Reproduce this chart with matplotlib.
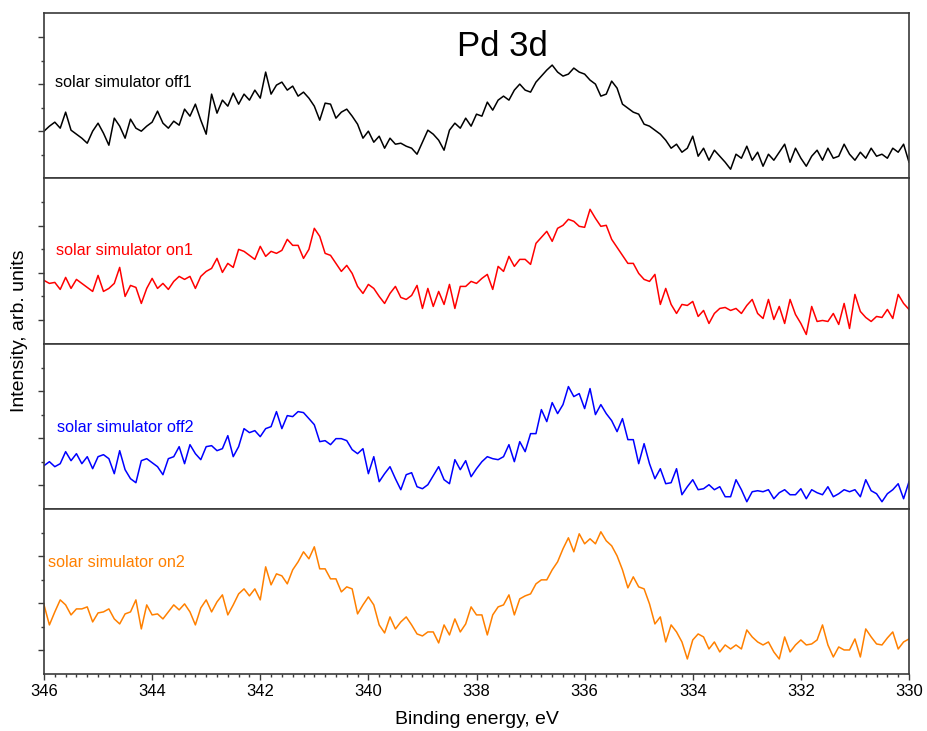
import numpy as np
import matplotlib
matplotlib.use("Agg")
import matplotlib.pyplot as plt
from matplotlib.ticker import MultipleLocator

plt.rcParams['font.family'] = ['Liberation Sans', 'DejaVu Sans']

# Binding energy grid, eV (346 -> 330, 0.1 eV step)
energy = np.round(np.arange(346.0, 329.95, -0.1), 1)

# Intensities, arb. units
off1 = [
    47, 52, 56, 50, 66, 48, 44, 40, 35, 47,
    55, 45, 33, 60, 52, 40, 59, 50, 47, 52,
    56, 67, 55, 50, 57, 53, 69, 62, 74, 58,
    44, 84, 65, 78, 72, 85, 74, 84, 78, 88,
    80, 106, 84, 93, 96, 88, 92, 82, 86, 80,
    72, 58, 75, 74, 60, 66, 69, 62, 54, 40,
    47, 36, 42, 30, 40, 34, 35, 32, 30, 24,
    36, 48, 44, 38, 28, 48, 55, 50, 60, 52,
    64, 62, 76, 68, 78, 82, 78, 88, 94, 88,
    86, 96, 102, 108, 113, 106, 102, 104, 110, 106,
    104, 98, 94, 82, 84, 97, 90, 74, 70, 66,
    64, 54, 52, 48, 44, 38, 30, 34, 26, 30,
    42, 22, 30, 18, 28, 22, 16, 9, 24, 20,
    32, 18, 26, 12, 24, 18, 26, 34, 16, 30,
    20, 12, 22, 28, 18, 30, 20, 22, 34, 24,
    18, 26, 20, 30, 22, 24, 20, 30, 26, 34,
    16,
]
on1 = [
    63, 60, 61, 54, 66, 55, 64, 60, 56, 52,
    68, 52, 55, 60, 76, 47, 58, 56, 40, 55,
    65, 55, 60, 54, 62, 67, 64, 67, 55, 67,
    72, 75, 85, 71, 80, 76, 94, 92, 88, 84,
    97, 87, 92, 90, 93, 104, 98, 98, 85, 94,
    115, 107, 90, 88, 80, 72, 78, 70, 57, 50,
    59, 55, 47, 40, 50, 57, 46, 44, 48, 58,
    35, 55, 37, 52, 39, 59, 35, 57, 57, 62,
    60, 65, 69, 54, 77, 72, 87, 77, 84, 84,
    79, 100, 106, 112, 102, 115, 118, 124, 122, 117,
    116, 134, 125, 117, 118, 104, 96, 88, 80, 80,
    70, 64, 62, 69, 39, 55, 39, 30, 39, 38,
    42, 27, 33, 20, 30, 35, 36, 33, 35, 30,
    38, 44, 30, 25, 44, 24, 37, 20, 44, 29,
    20, 9, 37, 22, 23, 22, 30, 19, 40, 15,
    49, 32, 26, 22, 27, 26, 34, 25, 49, 40,
    34,
]
off2 = [
    43, 47, 42, 45, 57, 48, 55, 45, 52, 40,
    52, 54, 50, 35, 58, 39, 30, 26, 48, 50,
    46, 42, 34, 50, 52, 62, 45, 64, 55, 49,
    62, 63, 58, 60, 73, 52, 62, 80, 76, 78,
    72, 80, 82, 97, 80, 93, 92, 97, 96, 90,
    84, 67, 68, 64, 70, 70, 68, 59, 55, 60,
    35, 52, 27, 35, 42, 30, 19, 34, 36, 22,
    20, 24, 33, 42, 29, 25, 49, 39, 48, 32,
    40, 47, 52, 50, 49, 52, 64, 47, 67, 57,
    75, 75, 99, 87, 106, 95, 104, 122, 112, 115,
    100, 120, 94, 104, 95, 88, 77, 90, 69, 69,
    45, 65, 45, 30, 40, 25, 26, 40, 14, 22,
    29, 19, 20, 24, 19, 22, 12, 12, 29, 19,
    7, 17, 18, 17, 19, 10, 16, 19, 14, 14,
    20, 10, 19, 16, 14, 22, 12, 15, 19, 17,
    19, 12, 29, 18, 15, 7, 15, 19, 25, 10,
    27,
]
on2 = [
    69, 49, 62, 74, 69, 59, 65, 65, 67, 52,
    61, 62, 65, 55, 50, 60, 62, 74, 45, 69,
    59, 60, 55, 62, 69, 64, 70, 62, 49, 66,
    74, 62, 72, 79, 59, 69, 80, 85, 78, 85,
    74, 107, 89, 100, 98, 90, 104, 112, 122, 115,
    127, 105, 105, 95, 95, 82, 87, 85, 60, 69,
    77, 69, 49, 41, 57, 45, 52, 57, 49, 40,
    38, 42, 42, 31, 49, 39, 55, 42, 50, 67,
    59, 59, 39, 59, 67, 69, 79, 59, 75, 78,
    80, 90, 94, 94, 104, 112, 125, 136, 122, 140,
    130, 135, 130, 142, 133, 128, 118, 104, 86, 97,
    87, 85, 70, 50, 57, 32, 49, 42, 32, 15,
    34, 40, 37, 25, 32, 22, 29, 25, 29, 25,
    44, 37, 32, 29, 32, 22, 15, 37, 22, 29,
    34, 29, 30, 34, 49, 29, 17, 27, 24, 24,
    35, 17, 45, 37, 30, 29, 36, 42, 25, 32,
    35,
]

labels = ['solar simulator off1', 'solar simulator on1',
          'solar simulator off2', 'solar simulator on2']
colors = ['black', '#ff0000', '#0000ff', '#ff8000']
series = [off1, on1, off2, on2]

W, H = 927, 731
fig, axes = plt.subplots(4, 1, figsize=(W / 100, H / 100), dpi=100, sharex=True)
fig.subplots_adjust(left=44 / W, right=909 / W, bottom=1 - 674 / H, top=1 - 13 / H, hspace=0)

spine_col = '#3a3a3a'
label_pos = [(345.8, 96), (345.78, 93), (345.76, 81), (345.93, 111)]

for i, ax in enumerate(axes):
    ax.plot(energy, series[i], color=colors[i], lw=1.1)
    ax.set_ylim(0, 165)
    ax.set_xlim(346, 330)

    # y ticks without labels, major/minor alternate
    if i == 0:
        ax.set_yticks([47, 94, 141])
        ax.set_yticks([23.5, 70.5, 117.5], minor=True)
    else:
        ax.set_yticks([23.5, 70.5, 117.5])
        ax.set_yticks([47, 94, 141], minor=True)
    ax.tick_params(axis='y', which='major', length=4, width=1, color=spine_col, labelleft=False)
    ax.tick_params(axis='y', which='minor', length=2.2, width=1, color=spine_col)

    for sp in ax.spines.values():
        sp.set_color(spine_col)
        sp.set_linewidth(1.2)

    tx, ty = label_pos[i]
    ax.text(tx, ty, labels[i], color=colors[i], fontsize=11.6, ha='left', va='center')

    if i < 3:
        ax.tick_params(axis='x', which='both', bottom=False, labelbottom=False)

bot = axes[-1]
bot.xaxis.set_major_locator(MultipleLocator(2))
bot.xaxis.set_minor_locator(MultipleLocator(0.2))
bot.tick_params(axis='x', which='major', length=4, width=1, color=spine_col, labelsize=12, pad=3)
bot.tick_params(axis='x', which='minor', length=2.2, width=1, color=spine_col)
bot.set_xlabel('Binding energy, eV', fontsize=14, labelpad=9)

fig.text(20 / W, 1 - 331 / H, 'Intensity, arb. units', rotation=90, fontsize=14,
         ha='center', va='center')
fig.text(502 / W, 1 - 46 / H, 'Pd 3d', fontsize=25, ha='center', va='center')

fig.savefig('out.png', dpi=100)
